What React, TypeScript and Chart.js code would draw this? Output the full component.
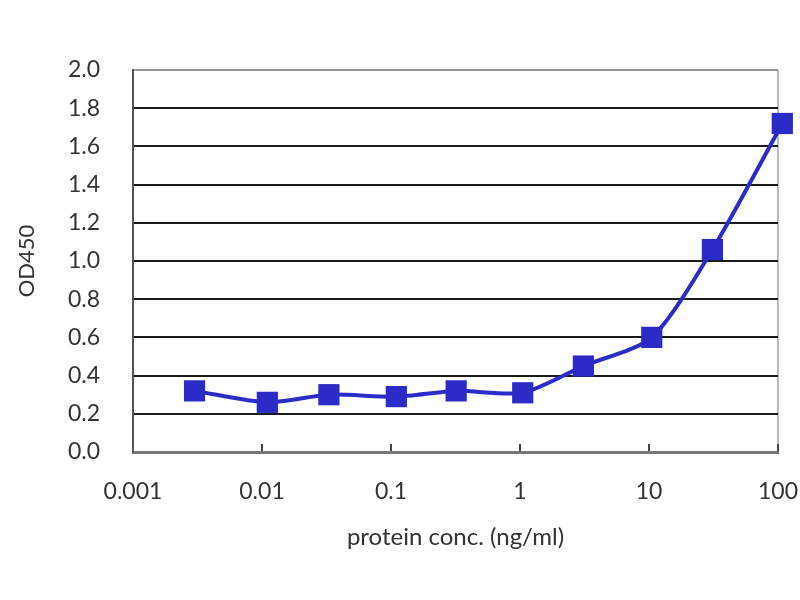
import { useEffect, useRef } from "react";
import { Chart, registerables } from "chart.js";

Chart.register(...registerables);

// protein concentration (ng/ml)
const concentration = [0.003, 0.011, 0.033, 0.11, 0.32, 1.05, 3.1, 10.5, 31, 108];
// OD450 readings
const od450 = [0.32, 0.26, 0.3, 0.29, 0.32, 0.31, 0.45, 0.6, 1.06, 1.72];

const xTicks = [0.001, 0.01, 0.1, 1, 10, 100];
const yTicks = [0, 0.2, 0.4, 0.6, 0.8, 1.0, 1.2, 1.4, 1.6, 1.8, 2.0];

const FONT = "Lato, 'Open Sans', sans-serif";
const BLUE = "#2b2bc8";

const App = () => {
    const chartRef = useRef<HTMLCanvasElement>(null);
    const chartInstance = useRef<Chart | null>(null);

    useEffect(() => {
        if (!chartRef.current) return;

        const points = concentration.map((c, i) => ({ x: c, y: od450[i] }));

        const config = {
            type: "line",
            data: {
                datasets: [
                    {
                        label: "OD450",
                        data: points,
                        borderColor: BLUE,
                        backgroundColor: BLUE,
                        borderWidth: 4,
                        tension: 0.25,
                        pointStyle: "rect",
                        pointRadius: 15,
                        pointBorderWidth: 0,
                        pointBackgroundColor: BLUE,
                        clip: false,
                    },
                ],
            },
            options: {
                animation: false,
                responsive: true,
                maintainAspectRatio: false,
                layout: { padding: { top: 70, right: 22, bottom: 0, left: 0 } },
                plugins: {
                    legend: { display: false },
                    tooltip: { enabled: false },
                },
                scales: {
                    x: {
                        type: "logarithmic",
                        min: 0.001,
                        max: 100,
                        afterBuildTicks: (scale: any) => {
                            scale.ticks = xTicks.map((v) => ({ value: v }));
                        },
                        afterFit: (scale: any) => {
                            scale.height = 148;
                            scale.paddingRight = 0;
                            scale.paddingLeft = 0;
                        },
                        ticks: {
                            autoSkip: false,
                            maxRotation: 0,
                            padding: 34,
                            color: "#333",
                            font: { family: FONT, size: 23 },
                            callback: (v: any) => String(v),
                        },
                        grid: {
                            drawOnChartArea: true,
                            drawTicks: true,
                            tickLength: -8,
                            lineWidth: 2,
                            // only the right-hand frame edge is drawn across the plot
                            color: (ctx: any) => (ctx.tick?.value === 100 ? "#bbb" : "rgba(0,0,0,0)"),
                            tickColor: "#444",
                        },
                        border: { color: "#777", width: 3 },
                        title: {
                            display: true,
                            text: "protein conc. (ng/ml)",
                            color: "#333",
                            font: { family: FONT, size: 24 },
                            padding: { top: 0, bottom: 48 },
                        },
                    },
                    y: {
                        min: 0,
                        max: 2,
                        afterBuildTicks: (scale: any) => {
                            scale.ticks = yTicks.map((v) => ({ value: v }));
                        },
                        afterFit: (scale: any) => {
                            scale.width = 133;
                        },
                        ticks: {
                            padding: 33,
                            color: "#333",
                            font: { family: FONT, size: 23 },
                            callback: (v: any) => Number(v).toFixed(1),
                        },
                        grid: {
                            drawTicks: false,
                            lineWidth: 2,
                            color: (ctx: any) => {
                                const v = ctx.tick?.value;
                                if (v === 0) return "rgba(0,0,0,0)";
                                if (v === 2) return "#999";
                                return "#1a1a1a";
                            },
                        },
                        border: { color: "#555", width: 2 },
                        title: {
                            display: true,
                            text: "OD450",
                            color: "#333",
                            font: { family: FONT, size: 22 },
                            padding: { top: 14, bottom: 0 },
                        },
                    },
                },
            },
        };

        if (chartInstance.current) {
            chartInstance.current.destroy();
        }
        chartInstance.current = new Chart(chartRef.current, config as any);

        return () => {
            if (chartInstance.current) {
                chartInstance.current.destroy();
                chartInstance.current = null;
            }
        };
    }, []);

    return (
        <div style={{ position: "fixed", left: 0, top: 0, width: 800, height: 600, background: "#fff" }}>
            <canvas ref={chartRef} />
        </div>
    );
};

export default App;
